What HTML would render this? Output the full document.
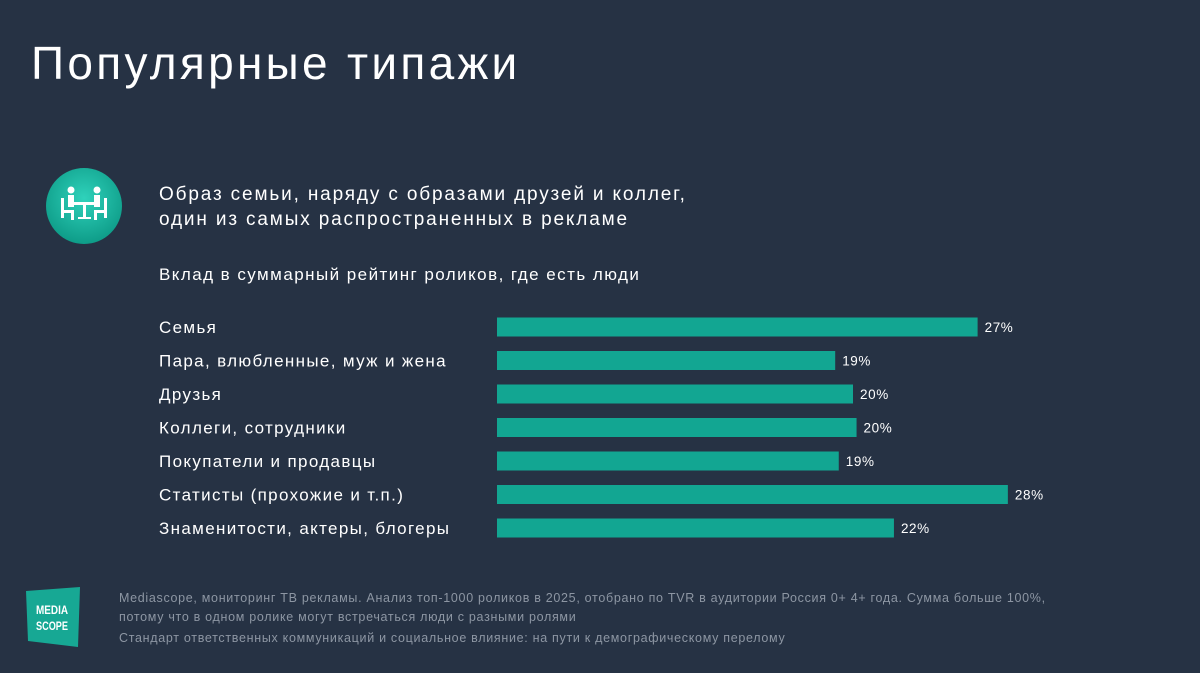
<!DOCTYPE html>
<html><head><meta charset="utf-8"><style>
body{margin:0;width:1200px;height:673px;background:#263244;overflow:hidden;font-family:"Liberation Sans","DejaVu Sans",sans-serif;color:#fff;position:relative}
.t{position:absolute;white-space:nowrap}
</style></head><body>
<div class="t" style="left:31px;top:36px;font-size:46px;letter-spacing:3.3px;">Популярные типажи</div>
<svg style="position:absolute;left:44px;top:166px" width="82" height="82" viewBox="0 0 82 82">
<defs><radialGradient id="g" cx="50%" cy="40%" r="60%"><stop offset="0" stop-color="#2fd2bb"/><stop offset="1" stop-color="#0e9c88"/></radialGradient></defs>
<circle cx="40" cy="40" r="38" fill="url(#g)"/>
<g fill="#fff"><circle cx="27" cy="24" r="3.5"/><circle cx="53" cy="24" r="3.5"/>
<rect x="24" y="29" width="6" height="12"/><rect x="50" y="29" width="6" height="12"/>
<rect x="17" y="32" width="3" height="20"/><rect x="60" y="32" width="3" height="20"/>
<rect x="20" y="44" width="10" height="3"/><rect x="50" y="44" width="10" height="3"/>
<rect x="27" y="44" width="3" height="10"/><rect x="50" y="44" width="3" height="10"/>
<rect x="30" y="36" width="20" height="3"/><rect x="39" y="36" width="3" height="16"/><rect x="34" y="51" width="13" height="2"/></g></svg>
<div class="t" style="left:159px;top:182px;font-size:19px;line-height:25px;letter-spacing:1.85px;">Образ семьи, наряду с образами друзей и коллег,<br>один из самых распространенных в рекламе</div>
<div class="t" style="left:159px;top:265px;font-size:17px;letter-spacing:1.45px;">Вклад в суммарный рейтинг роликов, где есть люди</div>
<svg id="chart" style="position:absolute;left:0;top:300px" width="1200" height="250"></svg>
<svg style="position:absolute;left:26px;top:587px" width="56" height="62">
<polygon points="0,4 54,0 52,60 2,54" fill="#17a894"/>
<text x="10" y="27" font-size="12" fill="#fff" font-family="Liberation Sans Narrow,Liberation Sans,sans-serif" font-weight="bold" textLength="32" lengthAdjust="spacingAndGlyphs">MEDIA</text>
<text x="10" y="43" font-size="12" fill="#fff" font-family="Liberation Sans Narrow,Liberation Sans,sans-serif" font-weight="bold" textLength="32" lengthAdjust="spacingAndGlyphs">SCOPE</text></svg>
<div class="t" style="left:119px;top:589px;font-size:12.5px;line-height:19px;color:#8d96a3;letter-spacing:0.7px;">Mediascope, мониторинг ТВ рекламы. Анализ топ-1000 роликов в 2025, отобрано по TVR в аудитории Россия 0+ 4+ года. Сумма больше 100%,<br>потому что в одном ролике могут встречаться люди с разными ролями</div>
<div class="t" style="left:119px;top:631px;font-size:12.5px;color:#8d96a3;letter-spacing:0.7px;">Стандарт ответственных коммуникаций и социальное влияние: на пути к демографическому перелому</div>
<script>
const categories=["Семья","Пара, влюбленные, муж и жена","Друзья","Коллеги, сотрудники","Покупатели и продавцы","Статисты (прохожие и т.п.)","Знаменитости, актеры, блогеры"];
const values=[27.0,19.0,20.0,20.2,19.2,28.7,22.3];
const valueLabels=["27%","19%","20%","20%","19%","28%","22%"];
const svg=document.getElementById('chart');
const NS='http://www.w3.org/2000/svg';
const x0=497,scale=17.8;
function xPos(v){return x0+v*scale;}
function yPos(i){return 27+i*33.5;}
categories.forEach((c,i)=>{
 const y=yPos(i);
 const t=document.createElementNS(NS,'text');
 
 
 t.setAttribute('x',159);t.setAttribute('y',y+6);t.setAttribute('fill','#fff');t.setAttribute('font-size','17');t.setAttribute('letter-spacing','1.35');
 t.textContent=c;svg.appendChild(t);
 const r=document.createElementNS(NS,'rect');
 
 
 r.setAttribute('x',x0);r.setAttribute('y',y-9.5);r.setAttribute('width',xPos(values[i])-x0);r.setAttribute('height',19);r.setAttribute('fill','#12a692');
 svg.appendChild(r);
 const l=document.createElementNS(NS,'text');
 
 
 l.setAttribute('x',xPos(values[i])+7);l.setAttribute('y',y+5);l.setAttribute('fill','#fff');l.setAttribute('font-size','13.5');l.setAttribute('letter-spacing','0.6');
 l.textContent=valueLabels[i];svg.appendChild(l);
});
</script>
</body></html>
